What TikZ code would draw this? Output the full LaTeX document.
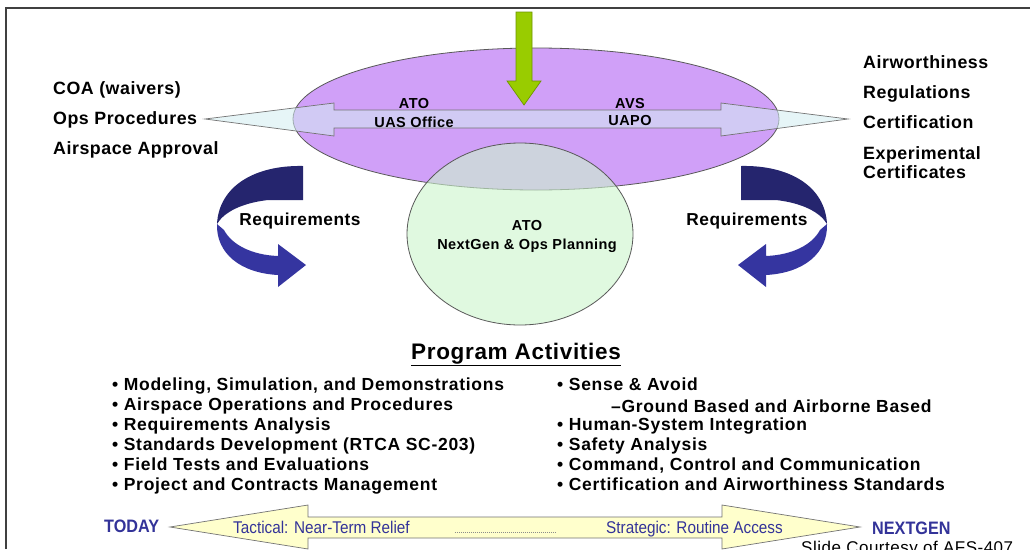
\documentclass[tikz,border=0pt]{standalone}
\usepackage{fontspec}
\setmainfont{Liberation Sans}[LetterSpace=3]
\newfontfamily\narrowfont{Liberation Sans}[FakeStretch=0.9]
\newfontfamily\widefont{Liberation Sans}[LetterSpace=4]
\usetikzlibrary{shapes.geometric}

\definecolor{framegray}{HTML}{404040}
\definecolor{lavender}{HTML}{D0A0F8}
\definecolor{mint}{HTML}{CCF5CC}
\definecolor{skyfill}{HTML}{D3EEF2}
\definecolor{lime}{HTML}{99CC00}
\definecolor{limedark}{HTML}{6E9400}
\definecolor{navy}{HTML}{3535A0}
\definecolor{navydark}{HTML}{25256E}
\definecolor{inkblue}{HTML}{333399}
\definecolor{cream}{HTML}{FFFFCC}

% curved "Requirements" arrow, drawn for the left side
\newcommand{\curvedreq}{%
  \fill[navydark] (303,166) .. controls (255,165) and (219,186) .. (217,224)
      .. controls (224,212) and (242,203) .. (268,200) -- (303,200) -- cycle;
  \fill[navy] (217,224) .. controls (216,253) and (240,273) .. (278,275)
      -- (278,287) -- (306,265) -- (278,244) -- (278,256)
      .. controls (252,255) and (232,245) .. (224,230) -- cycle;
}

\begin{document}
\begin{tikzpicture}[x=1pt,y=-1pt,
  lbl/.style={font=\bfseries\fontsize{17.8}{20}\selectfont, inner sep=0pt, anchor=base west},
  inlbl/.style={font=\bfseries\fontsize{14.5}{17}\selectfont, inner sep=0pt, anchor=base},
  reqlbl/.style={font=\bfseries\fontsize{17.3}{20}\selectfont, inner sep=0pt, anchor=base},
  item/.style={font=\widefont\bfseries\fontsize{17.5}{20}\selectfont, inner sep=0pt, anchor=base west},
  timelbl/.style={font=\narrowfont\bfseries\fontsize{18}{20}\selectfont, text=inkblue, inner sep=0pt, anchor=base west},
  phaselbl/.style={font=\narrowfont\fontsize{17}{20}\selectfont, text=inkblue, inner sep=0pt, anchor=base west},
  outline/.style={draw=black!65, line width=0.8pt}
]
\useasboundingbox (0,0) rectangle (1030,549);
\fill[white] (0,0) rectangle (1030,549);

% slide frame
\draw[framegray, line width=1.6pt] (6,549) -- (6,8) -- (1030,8);

% FAA offices ellipse
\node[ellipse, fill=lavender, outline, minimum width=486pt, minimum height=142pt, inner sep=0pt]
  (faa) at (536,119) {};

% two-way exchange arrow across the ellipse
\fill[skyfill, fill opacity=0.55]
  (205,119) -- (334,103) -- (334,110) -- (721,110) -- (721,103) -- (848,119)
  -- (721,136) -- (721,128) -- (334,128) -- (334,136) -- cycle;
\draw[black!55, line width=0.7pt]
  (205,119) -- (334,103) -- (334,110) -- (721,110) -- (721,103) -- (848,119)
  -- (721,136) -- (721,128) -- (334,128) -- (334,136) -- cycle;

% NextGen planning circle
\node[ellipse, fill=mint, fill opacity=0.6, outline, minimum width=226pt, minimum height=182pt, inner sep=0pt]
  (plan) at (520,234) {};

% input arrow from above
\draw[limedark, line width=0.7pt, fill=lime]
  (516,12) -- (532,12) -- (532,81) -- (541,81) -- (524,105) -- (507,81) -- (516,81) -- cycle;

% labels inside the ellipse and circle
\node[inlbl] (ato1) at (414,108) {ATO};
\node[inlbl] (uas)  at (414,127) {UAS Office};
\node[inlbl] (avs)  at (630,108) {AVS};
\node[inlbl] (uapo) at (630,125) {UAPO};
\node[inlbl] (ato2) at (527,230) {ATO};
\node[inlbl] (ngp)  at (527,249) {NextGen \& Ops Planning};

% side labels
\node[lbl] (coa)  at (53,94)  {COA (waivers)};
\node[lbl] (ops)  at (53,124) {Ops Procedures};
\node[lbl] (asp)  at (53,154) {Airspace Approval};
\node[lbl] (airw) at (863,68)  {Airworthiness};
\node[lbl] (regs) at (863,98)  {Regulations};
\node[lbl] (cert) at (863,128) {Certification};
\node[lbl] (expc) at (863,159) {Experimental};
\node[lbl] (certs) at (863,178) {Certificates};

% curved requirement arrows
\curvedreq
\begin{scope}[xshift=1044pt, xscale=-1]
  \curvedreq
\end{scope}
\node[reqlbl] (reqL) at (300,225) {Requirements};
\node[reqlbl] (reqR) at (747,225) {Requirements};

% program activities
\node[font=\bfseries\fontsize{22.5}{25}\selectfont, inner sep=0pt, anchor=base] (pa) at (516,359)
  {\underline{Program Activities}};

\node[item] (l1) at (112,390) {• Modeling, Simulation, and Demonstrations};
\node[item] (l2) at (112,410) {• Airspace Operations and Procedures};
\node[item] (l3) at (112,430) {• Requirements Analysis};
\node[item] (l4) at (112,450) {• Standards Development (RTCA SC-203)};
\node[item] (l5) at (112,470) {• Field Tests and Evaluations};
\node[item] (l6) at (112,490) {• Project and Contracts Management};

\node[item] (r1) at (557,390) {• Sense \& Avoid};
\node[item] (r1a) at (611,412) {–Ground Based and Airborne Based};
\node[item] (r2) at (557,430) {• Human-System Integration};
\node[item] (r3) at (557,450) {• Safety Analysis};
\node[item] (r4) at (557,470) {• Command, Control and Communication};
\node[item] (r5) at (557,490) {• Certification and Airworthiness Standards};

% timeline arrow
\draw[black!55, line width=0.7pt, fill=cream]
  (170,527) -- (308,505) -- (308,517) -- (722,517) -- (722,505) -- (860,527)
  -- (722,549) -- (722,538) -- (308,538) -- (308,549) -- cycle;
\node[phaselbl] (tact)  at (233,533) {Tactical: Near-Term Relief};
\node[phaselbl] (strat) at (606,533) {Strategic: Routine Access};
\coordinate (dotA) at ([xshift=45pt, yshift=-5pt]tact.east);
\coordinate (dotB) at ([xshift=-50pt, yshift=-5pt]strat.west |- tact.east);
\draw[black!45, line width=0.6pt, dash pattern=on 0.8pt off 1.2pt] (dotA) -- (dotB);
\node[timelbl] (today) at (104,532) {TODAY};
\node[timelbl] (nextgen) at (872,534) {NEXTGEN};

\node[font=\fontsize{17}{20}\selectfont, inner sep=0pt, anchor=base west] (credit) at (801,553)
  {Slide Courtesy of AFS-407};
\end{tikzpicture}
\end{document}
